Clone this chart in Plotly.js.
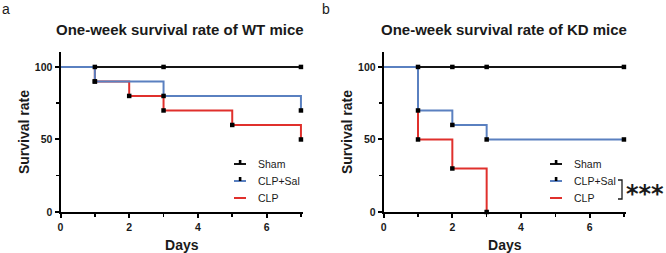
<!DOCTYPE html>
<html>
<head>
<meta charset="utf-8">
<script src="https://cdn.plot.ly/plotly-3.0.1.min.js"></script>
<style>
html,body{margin:0;padding:0;background:#fff;}
#chart{width:666px;height:253px;}
</style>
</head>
<body>
<div id="chart"></div>
<script>
// ---- data ----
var seriesNames = ['Sham', 'CLP+Sal', 'CLP'];
var panelTitles = ['One-week survival rate of WT mice', 'One-week survival rate of KD mice'];
var panelLabels = ['a', 'b'];
var xTickVals = [0, 2, 4, 6];
var yTickVals = [0, 50, 100];

// WT mice (step points: day, survival %)
var wtShamDays = [0, 1, 3, 7];
var wtShamSurv = [100, 100, 100, 100];
var wtSalDays = [0, 1, 3, 7];
var wtSalSurv = [100, 90, 80, 70];
var wtClpDays = [0, 1, 2, 3, 5, 7];
var wtClpSurv = [100, 90, 80, 70, 60, 50];

// KD mice
var kdShamDays = [0, 1, 2, 3, 7];
var kdShamSurv = [100, 100, 100, 100, 100];
var kdSalDays = [0, 1, 2, 3, 7];
var kdSalSurv = [100, 70, 60, 50, 50];
var kdClpDays = [0, 1, 2, 3];
var kdClpSurv = [100, 50, 30, 0];

var sigText = '***';

// ---- styles ----
var colors = ['#151515', '#5a80c0', '#e0302c'];
var legendTick = [true, true, false];
var FONT = 'Arial, "Liberation Sans", sans-serif';

function panel(days, surv, xa, ya, name) {
  var tr = [];
  var order = [0, 2, 1]; // draw Sham, CLP, then CLP+Sal on top
  order.forEach(function (k) {
    tr.push({
      x: days[k], y: surv[k], xaxis: xa, yaxis: ya,
      type: 'scatter', mode: 'lines',
      line: {shape: 'hv', color: colors[k], width: 2},
      name: seriesNames[k] + ' (' + name + ')',
      showlegend: false, hoverinfo: 'skip'
    });
  });
  // event / censor ticks on top of all lines
  [0, 1, 2].forEach(function (k) {
    tr.push({
      x: days[k].slice(1), y: surv[k].slice(1), xaxis: xa, yaxis: ya,
      type: 'scatter', mode: 'markers', cliponaxis: false,
      marker: {symbol: 'square', color: '#000', size: 4.5, line: {width: 0}},
      showlegend: false, hoverinfo: 'skip'
    });
  });
  return tr;
}

var traces = [].concat(
  panel([wtShamDays, wtSalDays, wtClpDays], [wtShamSurv, wtSalSurv, wtClpSurv], 'x', 'y', 'WT'),
  panel([kdShamDays, kdSalDays, kdClpDays], [kdShamSurv, kdSalSurv, kdClpSurv], 'x2', 'y2', 'KD')
);

var tickFont = {family: FONT, size: 10.5, color: '#1a1a1a', weight: 700};
var titleFont = {family: FONT, size: 14, color: '#1a1a1a', weight: 700};

function xAxis(domain, anchor) {
  return {
    domain: domain, anchor: anchor, range: [0, 7.06],
    showline: true, linewidth: 2, linecolor: '#000', mirror: false,
    showgrid: false, zeroline: false,
    tickmode: 'array', tickvals: xTickVals, ticks: 'outside', ticklen: 4, tickwidth: 2, tickcolor: '#000',
    minor: {tickmode: 'linear', tick0: 0, dtick: 1, ticks: 'outside', ticklen: 3, tickwidth: 1.5, tickcolor: '#000', showgrid: false},
    tickfont: tickFont,
    title: {text: 'Days', font: titleFont, standoff: 10}
  };
}
function yAxis(domain, anchor) {
  return {
    domain: domain, anchor: anchor, range: [0, 110.3],
    showline: true, linewidth: 2, linecolor: '#000',
    showgrid: false, zeroline: false,
    tickmode: 'array', tickvals: yTickVals, ticks: 'outside', ticklen: 4, tickwidth: 2, tickcolor: '#000',
    minor: {tickmode: 'linear', tick0: 0, dtick: 25, ticks: 'outside', ticklen: 3, tickwidth: 1.5, tickcolor: '#000', showgrid: false},
    tickfont: tickFont,
    title: {text: 'Survival rate', font: titleFont, standoff: 2}
  };
}

var W = 666, H = 253;
function px(x) { return x / W; }
function py(y) { return 1 - y / H; }

var annotations = [
  {text: panelTitles[0], xref: 'paper', yref: 'paper', x: px(180), y: py(30), showarrow: false,
   xanchor: 'center', yanchor: 'middle', font: {family: FONT, size: 15, color: '#1a1a1a', weight: 700}},
  {text: panelTitles[1], xref: 'paper', yref: 'paper', x: px(503.7), y: py(30), showarrow: false,
   xanchor: 'center', yanchor: 'middle', font: {family: FONT, size: 15, color: '#1a1a1a', weight: 700}},
  {text: panelLabels[0], xref: 'paper', yref: 'paper', x: px(6), y: py(9), showarrow: false,
   xanchor: 'center', yanchor: 'middle', font: {family: FONT, size: 14, color: '#1a1a1a'}},
  {text: panelLabels[1], xref: 'paper', yref: 'paper', x: px(326), y: py(9), showarrow: false,
   xanchor: 'center', yanchor: 'middle', font: {family: FONT, size: 14, color: '#1a1a1a'}},
  {text: sigText, xref: 'paper', yref: 'paper', x: px(644.5), y: py(189), showarrow: false,
   xanchor: 'center', yanchor: 'middle', yshift: -5,
   font: {family: '"DejaVu Sans", sans-serif', size: 24, color: '#1a1a1a', weight: 700}}
];
var shapes = [
  {type: 'path', xref: 'paper', yref: 'paper',
   path: 'M' + px(618) + ',' + py(180) + ' L' + px(622) + ',' + py(180) + ' L' + px(622) + ',' + py(199) + ' L' + px(618) + ',' + py(199),
   line: {color: '#1a1a1a', width: 1.3}}
];

// legend key (one per panel), built from the series names and colours
var legendOrigins = [[234, 164], [550, 164]];
var rowGap = 17;
legendOrigins.forEach(function (o) {
  seriesNames.forEach(function (nm, k) {
    var y = o[1] + k * rowGap;
    shapes.push({type: 'line', xref: 'paper', yref: 'paper',
      x0: px(o[0]), x1: px(o[0] + 12), y0: py(y), y1: py(y),
      line: {color: colors[k], width: 2}});
    if (legendTick[k]) {
      shapes.push({type: 'rect', xref: 'paper', yref: 'paper',
        x0: px(o[0] + 4.8), x1: px(o[0] + 7.4), y0: py(y - 4), y1: py(y),
        fillcolor: '#000', line: {width: 0}});
    }
    annotations.push({text: nm, xref: 'paper', yref: 'paper', x: px(o[0] + 22), y: py(y),
      showarrow: false, xanchor: 'left', yanchor: 'middle',
      font: {family: FONT, size: 10.5, color: '#1a1a1a'}});
  });
});

var layout = {
  width: W, height: H,
  margin: {l: 0, r: 0, t: 0, b: 0},
  paper_bgcolor: '#fff', plot_bgcolor: '#fff',
  showlegend: false,
  xaxis: xAxis([px(60.5), px(303)], 'y'),
  yaxis: yAxis([py(212), py(52)], 'x'),
  xaxis2: xAxis([px(383.7), px(626)], 'y2'),
  yaxis2: yAxis([py(212), py(52)], 'x2'),
  annotations: annotations,
  shapes: shapes
};

Plotly.newPlot('chart', traces, layout, {displayModeBar: false, staticPlot: true});
</script>
</body>
</html>
